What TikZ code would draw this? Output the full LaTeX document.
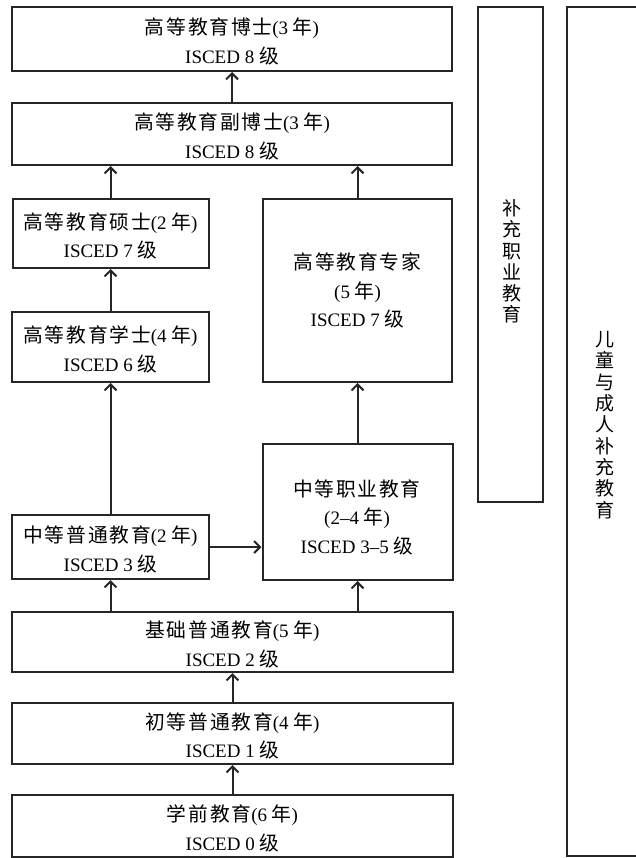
\documentclass[tikz,border=0pt]{standalone}
\usepackage{fontspec}
\setmainfont{Liberation Serif}
\newfontfamily\cjkfont{Noto Sans CJK SC}[LetterSpace=9,Scale=1.04]
\newfontfamily\cjkv{Noto Sans CJK SC}
\usetikzlibrary{arrows.meta}
\newcommand{\zh}[1]{{\cjkfont #1}}
\begin{document}
\begin{tikzpicture}[x=1pt,y=-1pt,
  box/.style={draw=black!85, line width=2pt, inner sep=0pt, align=center,
    font=\fontsize{19}{28.5}\selectfont},
  txt/.style={inner sep=0pt, align=center, font=\fontsize{19}{28.5}\selectfont},
  vtext/.style={inner sep=0pt, align=center, font=\cjkv\fontsize{19}{21.3}\selectfont},
  arr/.style={draw=black!85, line width=2pt, -{Straight Barb[length=6pt,width=12pt]}}]
\fill[white] (0,0) rectangle (636,858);
\useasboundingbox (0,0) rectangle (636,858);
% boxes
\node[box, minimum width=440pt, minimum height=64pt] (b8) at (232,39) {};
\node[txt] (b8t) at (232,41.5) {\zh{高等教育博士}(3 \zh{年})\\ISCED 8 \zh{级}};
\node[box, minimum width=440pt, minimum height=62pt] (b8p) at (232,134) {};
\node[txt] (b8pt) at (232,136.5) {\zh{高等教育副博士}(3 \zh{年})\\ISCED 8 \zh{级}};
\node[box, minimum width=196pt, minimum height=69pt] (b7) at (110.5,233.5) {};
\node[txt] (b7t) at (110.5,236) {\zh{高等教育硕士}(2 \zh{年})\\ISCED 7 \zh{级}};
\node[box, minimum width=197pt, minimum height=70pt] (b6) at (110.5,347) {};
\node[txt] (b6t) at (110.5,349.5) {\zh{高等教育学士}(4 \zh{年})\\ISCED 6 \zh{级}};
\node[box, minimum width=189pt, minimum height=183pt] (spec) at (357.5,290.5) {};
\node[txt] (spect) at (357.5,290.5) {\zh{高等教育专家}\\(5 \zh{年})\\ISCED 7 \zh{级}};
\node[box, minimum width=197pt, minimum height=64pt] (b3) at (110.5,547) {};
\node[txt] (b3t) at (110.5,549.5) {\zh{中等普通教育}(2 \zh{年})\\ISCED 3 \zh{级}};
\node[box, minimum width=190pt, minimum height=136pt] (voc) at (357.5,512) {};
\node[txt] (voct) at (357,517) {\zh{中等职业教育}\\(2–4 \zh{年})\\ISCED 3–5 \zh{级}};
\node[box, minimum width=441pt, minimum height=60pt] (b2) at (232.5,642) {};
\node[txt] (b2t) at (232.5,644.5) {\zh{基础普通教育}(5 \zh{年})\\ISCED 2 \zh{级}};
\node[box, minimum width=441pt, minimum height=61pt] (b1) at (232.5,733.5) {};
\node[txt] (b1t) at (232.5,736) {\zh{初等普通教育}(4 \zh{年})\\ISCED 1 \zh{级}};
\node[box, minimum width=441pt, minimum height=62pt] (b0) at (232.5,826) {};
\node[txt] (b0t) at (232.5,828.5) {\zh{学前教育}(6 \zh{年})\\ISCED 0 \zh{级}};
% side columns
\node[box, minimum width=65pt, minimum height=495pt] (sv) at (510.5,254.5) {};
\node[vtext] (svt) at (511.5,261.5) {补\\充\\职\\业\\教\\育};
\node[box, minimum width=80pt, minimum height=849pt] (ad) at (607,431.5) {};
\node[vtext] (adt) at (605,425) {儿\\童\\与\\成\\人\\补\\充\\教\\育};
% connectors
\draw[arr] (b8p.north) -- (b8p.north |- b8.south);
\draw[arr] (b7.north) -- (b7.north |- b8p.south);
\draw[arr] (b6.north) -- (b6.north |- b7.south);
\draw[arr] (b3.north) -- (b3.north |- b6.south);
\draw[arr] (spec.north) -- (spec.north |- b8p.south);
\draw[arr] (voc.north) -- (voc.north |- spec.south);
\draw[arr] (b3.east) -- (b3.east -| voc.west);
\draw[arr] (b3.south |- b2.north) -- (b3.south);
\draw[arr] (voc.south |- b2.north) -- (voc.south);
\draw[arr] (b1.north) -- (b1.north |- b2.south);
\draw[arr] (b0.north) -- (b0.north |- b1.south);
\end{tikzpicture}
\end{document}
